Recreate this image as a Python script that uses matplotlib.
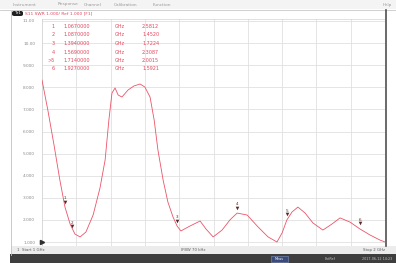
import matplotlib
matplotlib.use("Agg")
import matplotlib.pyplot as plt
from matplotlib.patches import Rectangle, FancyBboxPatch

W, H = 396, 263

# ---- data ----
freq_ghz = [1.000, 1.017, 1.035, 1.052, 1.067, 1.082, 1.096, 1.111, 1.128, 1.149,
            1.169, 1.184, 1.195, 1.204, 1.213, 1.222, 1.233, 1.251, 1.268, 1.286,
            1.300, 1.315, 1.327, 1.338, 1.353, 1.367, 1.382, 1.394, 1.405, 1.431,
            1.461, 1.478, 1.499, 1.525, 1.548, 1.569, 1.598, 1.630, 1.659, 1.685,
            1.700, 1.714, 1.729, 1.746, 1.767, 1.790, 1.819, 1.845, 1.869, 1.898,
            1.927, 1.956, 1.985, 2.000]
swr = [8.33, 6.97, 5.39, 3.81, 2.58, 1.81, 1.36, 1.23, 1.45, 2.22,
       3.44, 4.71, 6.52, 7.74, 7.97, 7.65, 7.56, 7.88, 8.06, 8.15,
       8.01, 7.56, 6.52, 5.16, 3.81, 2.81, 2.13, 1.72, 1.50, 1.72,
       1.95, 1.59, 1.23, 1.54, 2.00, 2.31, 2.22, 1.68, 1.23, 1.00,
       1.41, 2.00, 2.36, 2.58, 2.31, 1.86, 1.54, 1.81, 2.09, 1.90,
       1.59, 1.32, 1.09, 1.00]

marker_ids = ["1", "2", "3", "4", "5", "6"]
marker_freq = [1.067, 1.087, 1.394, 1.569, 1.714, 1.927]
marker_swr = [2.5812, 1.4520, 1.7224, 2.3087, 2.0015, 1.5921]
active_marker = "5"

ytick_vals = [1, 2, 3, 4, 5, 6, 7, 8, 9, 10, 11]
ytick_labels = ["1.000", "2.000", "3.000", "4.000", "5.000", "6.000",
                "7.000", "8.000", "9.000", "10.00", "11.00"]
start_ghz, stop_ghz = 1.0, 2.0

menu_items = ["Instrument", "Response", "Channel", "Calibration", "Function"]
trace_title = "S11 SWR 1.000/ Ref 1.000 [F1]"

TRACE = "#ec5468"
TEXT_RED = "#e2485e"
GRID = "#e0e0e0"


def fx(px):
    return px / W


def fy(py):
    return 1 - py / H


fig = plt.figure(figsize=(W / 100, H / 100), dpi=100)
fig.patch.set_facecolor("white")

# menu bar
fig.patches.append(Rectangle((0, fy(9)), 1, 9 / H, transform=fig.transFigure,
                             facecolor="#f4f4f4", edgecolor="none", zorder=0))
menu_x = [13, 58, 84, 114, 153]
for mx, m in zip(menu_x, menu_items):
    fig.text(fx(mx), fy(4.5), m, fontsize=3.2, color="#9a9a9a", va="center", ha="left")
fig.text(fx(392), fy(5), "Help", fontsize=3.0, color="#9a9a9a", va="center", ha="right")
fig.add_artist(plt.Line2D([0, 1], [fy(10), fy(10)], color="#c8c8c8", lw=0.6,
                          transform=fig.transFigure))

# left panel border and right dark border
fig.add_artist(plt.Line2D([fx(11), fx(11)], [fy(11), fy(255)], color="#c0c0c0", lw=0.6,
                          transform=fig.transFigure))
fig.add_artist(plt.Line2D([fx(386), fx(386)], [fy(10), fy(246)], color="#505050", lw=1.2,
                          transform=fig.transFigure))

# title bar: Tr1 box and text
fig.patches.append(FancyBboxPatch((fx(12), fy(16)), 11 / W, 5 / H,
                                  boxstyle="round,pad=0,rounding_size=0.006",
                                  transform=fig.transFigure, facecolor="#202020",
                                  edgecolor="none"))
fig.text(fx(17.5), fy(13.5), "Tr1", fontsize=2.8, color="white", ha="center", va="center")
fig.text(fx(25), fy(13.5), trace_title, fontsize=3.2, color=TEXT_RED, ha="left", va="center")

# plot axes
top_px, bot_px = 19, 246
ax = fig.add_axes([fx(42), fy(bot_px), (385 - 42) / W, (bot_px - top_px) / H])
ax.set_facecolor("white")
px_per_unit = (242 - 21) / 10.0
ax.set_ylim(1 - (bot_px - 242) / px_per_unit, 11 + (21 - top_px) / px_per_unit)
ax.set_xlim(start_ghz, stop_ghz)

xt = [start_ghz + i * (stop_ghz - start_ghz) / 10 for i in range(11)]
for v in xt:
    ax.axvline(v, color=GRID, lw=0.6, zorder=1)
for v in ytick_vals:
    ax.axhline(v, color=GRID, lw=0.6, zorder=1)

ax.set_xticks([])
ax.set_yticks(ytick_vals)
ax.set_yticklabels(ytick_labels, fontsize=3.1, color="#8a8a8a")
ax.tick_params(axis="y", length=0, pad=5)
for s in ["top", "bottom", "left"]:
    ax.spines[s].set_color("#d4d4d4")
    ax.spines[s].set_linewidth(0.5)
ax.spines["right"].set_visible(False)

ax.plot(freq_ghz, swr, color=TRACE, lw=0.6, zorder=3, clip_on=True)

# markers on trace
for mid, mf, ms in zip(marker_ids, marker_freq, marker_swr):
    ax.plot([mf], [ms + 0.25], marker="v", ms=2.6, color="#5a2a2a", zorder=4,
            markeredgewidth=0)
    ax.annotate(mid, (mf, ms), xytext=(0, 5), textcoords="offset points",
                fontsize=3.0, color="#5a2a2a", ha="center", va="bottom", zorder=4)

# reference arrow at 1.000
ax.plot([start_ghz], [1], marker=">", ms=3, color="#303030", clip_on=False, zorder=5)

# marker table
row_y = [27, 35, 43.5, 52, 60, 68]
for ry, mid, mf, ms in zip(row_y, marker_ids, marker_freq, marker_swr):
    lab = (">" + mid) if mid == active_marker else mid
    fig.text(fx(55), fy(ry), lab, fontsize=3.5, color=TEXT_RED, ha="right", va="center")
    fig.text(fx(63), fy(ry), f"{mf:.7f}", fontsize=3.5, color=TEXT_RED, ha="left", va="center")
    fig.text(fx(115), fy(ry), "GHz", fontsize=3.5, color=TEXT_RED, ha="left", va="center")
    fig.text(fx(142), fy(ry), f"{ms:.4f}", fontsize=3.5, color=TEXT_RED, ha="left", va="center")

# stimulus strip
fig.patches.append(Rectangle((fx(11), fy(254)), (W - 11) / W, 8 / H,
                             transform=fig.transFigure, facecolor="#ececec",
                             edgecolor="none", zorder=0))
fig.text(fx(17), fy(250), f"1  Start {start_ghz:g} GHz", fontsize=2.8, color="#606060",
         ha="left", va="center")
fig.text(fx(193), fy(250), "IFBW 70 kHz", fontsize=2.8, color="#606060",
         ha="center", va="center")
fig.text(fx(385), fy(250), f"Stop {stop_ghz:g} GHz", fontsize=2.8, color="#606060",
         ha="right", va="center")

# status bar
fig.patches.append(Rectangle((fx(10), 0), (W - 10) / W, 9 / H,
                             transform=fig.transFigure, facecolor="#3e3e3e",
                             edgecolor="none", zorder=0))
fig.patches.append(Rectangle((fx(271), fy(262)), 17 / W, 6 / H,
                             transform=fig.transFigure, facecolor="#3a4a7a",
                             edgecolor="#8090c0", lw=0.4, zorder=1))
fig.text(fx(279.5), fy(259), "Meas", fontsize=2.4, color="white", ha="center", va="center")
fig.text(fx(330), fy(259), "ExtRef", fontsize=2.4, color="#c0c0c0", ha="center", va="center")
fig.text(fx(392), fy(259), "2017-06-12 14:23", fontsize=2.4, color="#c0c0c0",
         ha="right", va="center")

fig.savefig("out.png", dpi=100)
